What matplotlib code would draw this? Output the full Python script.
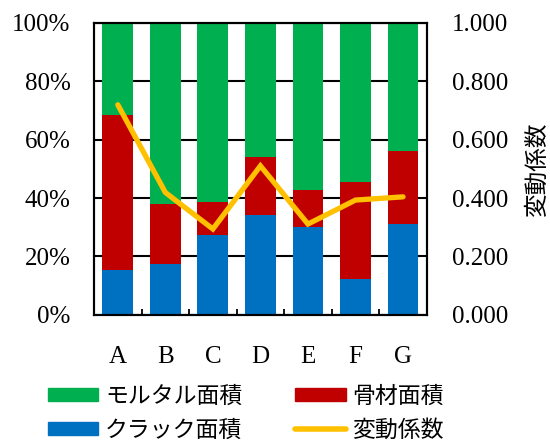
import numpy as np
import matplotlib
matplotlib.use("Agg")
import matplotlib.pyplot as plt
from matplotlib.patches import Patch
from matplotlib.lines import Line2D
from matplotlib.ticker import FixedLocator

plt.rcParams['font.family'] = ['Liberation Serif', 'Noto Sans CJK JP']

# Area ratios (%) and coefficient of variation per specimen
categories = ["A", "B", "C", "D", "E", "F", "G"]
crack = [15.5, 17.3, 27.4, 34.1, 30.0, 12.3, 31.0]
aggregate = [52.9, 20.7, 11.1, 20.0, 12.8, 33.1, 25.2]
mortar = [100 - c - a for c, a in zip(crack, aggregate)]
cv = [0.719, 0.419, 0.294, 0.510, 0.311, 0.393, 0.404]

GREEN = "#00B050"
RED = "#C00000"
BLUE = "#0070C0"
GOLD = "#FFC000"
JP = ['Noto Sans CJK JP']

fig = plt.figure(figsize=(5.5, 4.43), dpi=100)
ax = fig.add_axes([0.171, 0.289, 0.605, 0.660])
x = np.arange(len(categories))
w = 0.65

ax.bar(x, crack, w, color=BLUE, zorder=2)
ax.bar(x, aggregate, w, bottom=crack, color=RED, zorder=2)
ax.bar(x, mortar, w, bottom=np.add(crack, aggregate), color=GREEN, zorder=2)

ax.set_xlim(-0.5, len(categories) - 0.5)
ax.set_ylim(0, 100)
ax.set_yticks(range(0, 101, 20))
ax.set_yticklabels([f"{v}%" for v in range(0, 101, 20)], fontsize=18)
ax.set_xticks(x)
ax.set_xticklabels(categories, fontsize=18)
ax.xaxis.set_minor_locator(FixedLocator(np.arange(0.5, len(categories) - 1, 1)))
ax.tick_params(axis="x", which="major", length=0, pad=22)
ax.tick_params(axis="x", which="minor", direction="in", length=4, width=1.3)
ax.tick_params(axis="y", length=0, pad=17)
ax.yaxis.grid(True, color="black", linewidth=1.5, zorder=1)
ax.set_axisbelow(True)
for s in ax.spines.values():
    s.set_linewidth(1.5)
    s.set_color("black")

ax2 = ax.twinx()
ax2.plot(x, cv, color=GOLD, linewidth=3.8, solid_capstyle="round",
         solid_joinstyle="miter", zorder=3)
ax2.set_ylim(0, 1)
ax2.set_yticks(np.arange(0, 1.01, 0.2))
ax2.set_yticklabels([f"{v:.3f}" for v in np.arange(0, 1.01, 0.2)], fontsize=18)
ax2.tick_params(axis="y", length=0, pad=18)
ax2.set_ylabel("変動係数", fontsize=17, family=JP, labelpad=13)
for s in ax2.spines.values():
    s.set_linewidth(1.5)

handles = [
    Patch(color=GREEN, label="モルタル面積"),
    Patch(color=BLUE, label="クラック面積"),
    Patch(color=RED, label="骨材面積"),
    Line2D([], [], color=GOLD, linewidth=4, solid_capstyle="round", label="変動係数"),
]
fig.legend(handles=handles, ncol=2, loc="upper left", bbox_to_anchor=(0.087, 0.132),
           frameon=False, prop={"family": JP, "size": 16.5},
           borderpad=0, borderaxespad=0,
           handlelength=2.2, handleheight=0.55, handletextpad=0.3,
           columnspacing=2.3, labelspacing=0.48)

fig.savefig("out.png", dpi=100)
